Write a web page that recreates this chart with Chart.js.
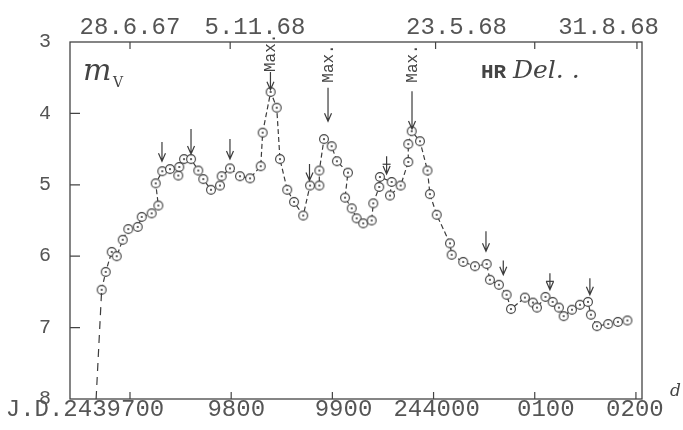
<!DOCTYPE html>
<html>
<head>
<meta charset="utf-8">
<script src="https://cdn.jsdelivr.net/npm/chart.js@4.4.1/dist/chart.umd.min.js"></script>
<style>
  html, body { margin: 0; padding: 0; background: #fff; }
  #wrap { width: 683px; height: 430px; position: relative; }
</style>
</head>
<body>
<div id="wrap"><canvas id="lightCurve"></canvas></div>
<script>
// HR Del - visual magnitude against J.D. (2439700 + ...)
const julianDays = [
  9672.0, 9676.0, 9681.9, 9686.9, 9692.8, 9698.3, 9707.6, 9711.6, 9721.4, 9728.0,
  9725.4, 9731.9, 9739.5, 9747.7, 9748.7, 9753.4, 9760.3, 9767.5, 9772.4, 9780.0,
  9788.9, 9790.6, 9798.8, 9808.7, 9818.6, 9829.2, 9831.1, 9839.0, 9845.0, 9848.2,
  9855.4, 9862.1, 9871.2, 9877.9, 9887.1, 9887.1, 9891.7, 9899.3, 9904.5, 9915.4,
  9912.5, 9919.1, 9924.0, 9930.5, 9938.8, 9940.4, 9946.3, 9947.0, 9958.6, 9956.9,
  9967.5, 9975.0, 9975.0, 9978.4, 9986.6, 9994.0, 9996.4, 10003.1, 10016.2, 10017.9,
  10029.3, 10040.9, 10052.5, 10055.7, 10064.6, 10072.2, 10076.5, 10090.3, 10098.2, 10102.2,
  10110.6, 10117.7, 10123.9, 10128.6, 10136.8, 10144.7, 10152.6, 10155.5, 10161.5, 10172.6,
  10182.2, 10191.6
];
const magnitudes = [
  6.47, 6.22, 5.94, 6.00, 5.77, 5.62, 5.59, 5.45, 5.40, 5.29,
  4.98, 4.81, 4.78, 4.87, 4.75, 4.64, 4.64, 4.80, 4.92, 5.07,
  5.01, 4.88, 4.77, 4.88, 4.91, 4.74, 4.27, 3.70, 3.92, 4.64,
  5.07, 5.24, 5.43, 5.01, 5.01, 4.80, 4.36, 4.46, 4.67, 4.83,
  5.18, 5.33, 5.47, 5.54, 5.50, 5.26, 5.03, 4.89, 4.96, 5.15,
  5.01, 4.68, 4.43, 4.25, 4.39, 4.80, 5.13, 5.42, 5.82, 5.98,
  6.08, 6.14, 6.11, 6.33, 6.40, 6.54, 6.74, 6.58, 6.65, 6.72,
  6.57, 6.64, 6.72, 6.84, 6.75, 6.68, 6.64, 6.82, 6.98, 6.95,
  6.92, 6.90
];
// dashed rise from below the frame to the first estimate
const leadInDays = [9666.5, 9672.0];
const leadInMags = [8.0, 6.47];

const magTicks = [3, 4, 5, 6, 7, 8];
const bottomTickDays = [9700, 9800, 9900, 10000, 10100, 10200];
const bottomLabelDays = [9655.5, 9805, 9911, 10003, 10111, 10199];
const bottomLabels = ['J.D.2439700', '9800', '9900', '244000', '0100', '0200'];
const topTickDays = [9700, 9799, 10002, 10100, 10201];
const topLabelDays = [9700, 9823.5, 10022.7, 10173];
const topLabels = ['28.6.67', '5.11.68', '23.5.68', '31.8.68'];

// arrows marking maxima: day, tail magnitude, tip magnitude
const arrowDays = [9731.6, 9760.3, 9798.8, 9838.8, 9877.4, 9895.7, 9953.6, 9978.7, 10051.8, 10068.9, 10115.0, 10154.5];
const arrowTails = [4.40, 4.22, 4.36, 3.42, 4.71, 3.64, 4.60, 3.69, 5.65, 6.06, 6.24, 6.31];
const arrowTips = [4.67, 4.57, 4.64, 3.67, 4.94, 4.11, 4.85, 4.22, 5.93, 6.26, 6.47, 6.54];
const maxLabelDays = [9839.5, 9896, 9979];
const maxLabelMags = [3.42, 3.57, 3.57];

const INK = '#3c3c3c';
const TYPE = '"Liberation Mono", "DejaVu Sans Mono", monospace';

function ringDot() {
  const c = document.createElement('canvas');
  c.width = 12; c.height = 12;
  const g = c.getContext('2d');
  g.beginPath(); g.arc(6, 6, 4.4, 0, Math.PI * 2);
  g.fillStyle = '#fff'; g.fill();
  g.lineWidth = 1.1; g.strokeStyle = INK; g.stroke();
  g.beginPath(); g.arc(6, 6, 1.1, 0, Math.PI * 2);
  g.fillStyle = INK; g.fill();
  return c;
}

const paperPlugin = {
  id: 'paper',
  afterDraw(chart) {
    const ctx = chart.ctx;
    const a = chart.chartArea;
    const xs = chart.scales.x, ys = chart.scales.y;
    ctx.save();
    ctx.strokeStyle = '#444';
    ctx.lineWidth = 1.3;
    ctx.strokeRect(a.left, a.top, a.right - a.left, a.bottom - a.top);

    // inward tick marks
    ctx.lineWidth = 1.2;
    ctx.beginPath();
    magTicks.slice(1, -1).forEach(m => {
      const py = ys.getPixelForValue(m);
      ctx.moveTo(a.left, py); ctx.lineTo(a.left + 10, py);
    });
    bottomTickDays.forEach(d => {
      const px = xs.getPixelForValue(d);
      ctx.moveTo(px, a.bottom); ctx.lineTo(px, a.bottom - 7);
    });
    topTickDays.forEach(d => {
      const px = xs.getPixelForValue(d);
      ctx.moveTo(px, a.top); ctx.lineTo(px, a.top + 7);
    });
    ctx.stroke();

    // arrows
    ctx.strokeStyle = INK;
    ctx.lineWidth = 1.2;
    arrowDays.forEach((d, i) => {
      const px = xs.getPixelForValue(d);
      const y1 = ys.getPixelForValue(arrowTails[i]);
      const y2 = ys.getPixelForValue(arrowTips[i]);
      ctx.beginPath();
      ctx.moveTo(px, y1); ctx.lineTo(px, y2);
      ctx.moveTo(px - 3.5, y2 - 8); ctx.lineTo(px, y2); ctx.lineTo(px + 3.5, y2 - 8);
      ctx.stroke();
      if (i === 6 || i === 10) {
        ctx.beginPath();
        ctx.moveTo(px - 4, y1 + 8); ctx.lineTo(px + 4, y1 + 8);
        ctx.stroke();
      }
    });

    // rotated "Max." labels
    ctx.fillStyle = '#444';
    ctx.font = '16px ' + TYPE;
    ctx.textAlign = 'left';
    ctx.textBaseline = 'middle';
    maxLabelDays.forEach((d, i) => {
      ctx.save();
      ctx.translate(xs.getPixelForValue(d), ys.getPixelForValue(maxLabelMags[i]));
      ctx.rotate(-Math.PI / 2);
      ctx.fillText('Max.', 0, 0);
      ctx.restore();
    });

    // annotations
    ctx.textBaseline = 'alphabetic';
    ctx.fillStyle = '#444';
    ctx.font = 'italic 30px "DejaVu Serif", serif';
    ctx.fillText('m', 83, 80);
    ctx.font = '14px "DejaVu Serif", serif';
    ctx.fillText('V', 113, 87);
    ctx.font = 'bold 21px ' + TYPE;
    ctx.fillText('HR', 481, 78);
    ctx.font = 'italic 25px "DejaVu Serif", serif';
    ctx.fillText('Del. .', 513, 78);
    ctx.font = 'italic 17px "DejaVu Serif", serif';
    ctx.fillText('d', 670, 396);
    ctx.restore();
  }
};

new Chart(document.getElementById('lightCurve'), {
  type: 'scatter',
  data: {
    datasets: [
      {
        data: leadInDays.map((d, i) => ({ x: d, y: leadInMags[i] })),
        showLine: true,
        borderColor: INK,
        borderWidth: 1.2,
        borderDash: [8, 6],
        pointRadius: 0
      },
      {
        data: julianDays.map((d, i) => ({ x: d, y: magnitudes[i] })),
        showLine: true,
        borderColor: INK,
        borderWidth: 1.2,
        borderDash: [5, 3],
        pointStyle: ringDot(),
        pointRadius: 5
      }
    ]
  },
  options: {
    responsive: true,
    maintainAspectRatio: false,
    animation: false,
    layout: { padding: { left: 0, right: 41, top: 0, bottom: 0 } },
    plugins: { legend: { display: false }, tooltip: { enabled: false } },
    scales: {
      x: {
        type: 'linear',
        position: 'bottom',
        min: 9640.7,
        max: 10206,
        grid: { display: false, drawTicks: false },
        border: { display: false },
        afterBuildTicks: axis => { axis.ticks = bottomLabelDays.map(v => ({ value: v })); },
        afterFit: axis => { axis.height = 28; },
        ticks: {
          autoSkip: false,
          maxRotation: 0,
          padding: -4,
          color: '#555',
          font: { family: TYPE, size: 24 },
          callback: (v, i) => bottomLabels[i]
        }
      },
      x2: {
        type: 'linear',
        position: 'top',
        min: 9640.7,
        max: 10206,
        grid: { display: false, drawTicks: false },
        border: { display: false },
        afterBuildTicks: axis => { axis.ticks = topLabelDays.map(v => ({ value: v })); },
        afterFit: axis => { axis.height = 42; },
        ticks: {
          autoSkip: false,
          maxRotation: 0,
          padding: 0,
          color: '#555',
          font: { family: TYPE, size: 24 },
          callback: (v, i) => topLabels[i]
        }
      },
      y: {
        type: 'linear',
        position: 'left',
        reverse: true,
        min: 3,
        max: 8,
        grid: { display: false, drawTicks: false },
        border: { display: false },
        afterBuildTicks: axis => { axis.ticks = magTicks.map(v => ({ value: v })); },
        afterFit: axis => { axis.width = 70; },
        ticks: {
          padding: 19,
          color: '#555',
          font: { family: TYPE, size: 20 }
        }
      }
    }
  },
  plugins: [paperPlugin]
});
</script>
</body>
</html>
